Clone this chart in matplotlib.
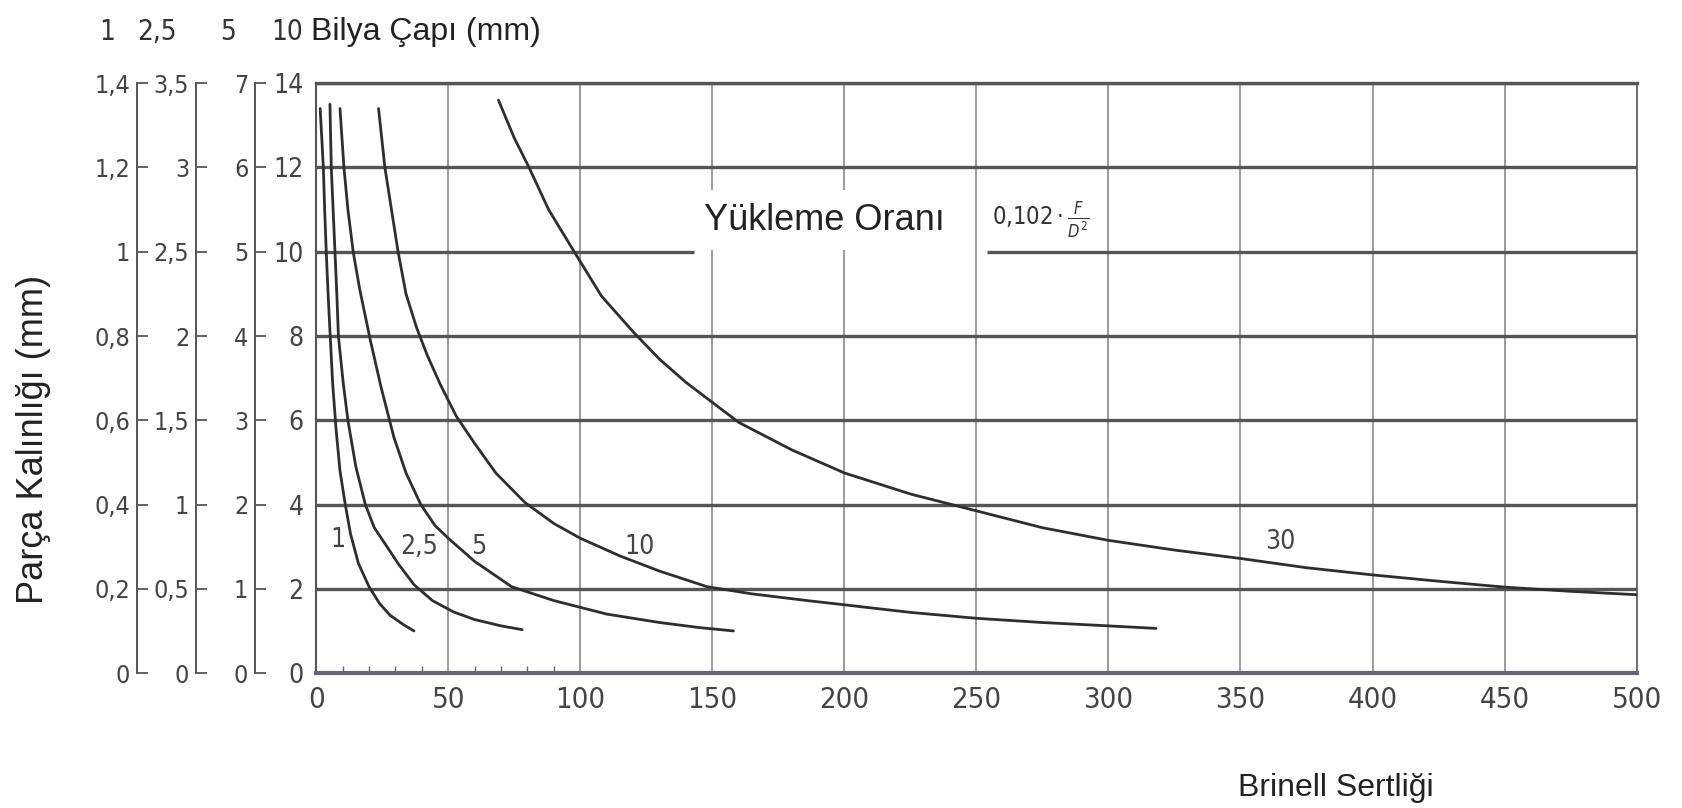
import matplotlib
matplotlib.use('Agg')
import matplotlib.pyplot as plt

plt.rcParams['font.family'] = ['DejaVu Sans']
plt.rcParams['font.stretch'] = 'condensed'

# Brinell hardness and part thickness (10 mm ball scale)
hb_1 = [1.5, 2.1, 2.7, 3.2, 3.8, 4.5, 5.3, 6.2, 7.5, 9, 11, 13, 16, 20, 24, 28, 33, 37]
t_1 = [13.4, 12.7, 12, 11, 10, 9, 8, 6.9, 5.8, 4.8, 4.0, 3.3, 2.6, 2.05, 1.65, 1.37, 1.15, 1.0]

hb_25 = [5.2, 5.7, 6.4, 7.1, 7.8, 8.4, 10.2, 12, 15, 18.6, 22, 26.8, 31, 37, 44, 52, 60, 70, 78]
t_25 = [13.5, 12, 11, 10, 9, 8, 6.9, 6, 4.9, 4.0, 3.45, 3.0, 2.6, 2.1, 1.72, 1.45, 1.27, 1.12, 1.03]

hb_5 = [9, 10.5, 12, 14, 16.5, 20.5, 24.5, 29.4, 34, 39.6, 45, 50, 60, 74, 90, 110, 130, 145, 158]
t_5 = [13.4, 12, 11, 10, 9.1, 7.9, 6.8, 5.6, 4.75, 4.0, 3.5, 3.2, 2.65, 2.05, 1.72, 1.4, 1.2, 1.08, 1.0]

hb_10 = [23.6, 26, 28.5, 31, 34, 38, 42, 47, 53, 60, 68, 79, 90, 100, 115, 130, 148,
         165, 186, 200, 225, 250, 275, 300, 318]
t_10 = [13.4, 12, 11, 10, 9, 8.2, 7.55, 6.85, 6.1, 5.45, 4.75, 4.05, 3.55, 3.2, 2.78, 2.42, 2.05,
        1.88, 1.72, 1.62, 1.44, 1.3, 1.2, 1.12, 1.06]

hb_30 = [69, 75, 80.6, 88, 97.7, 108, 120, 130, 140, 160, 180, 200, 225, 250, 275, 300,
         325, 350, 375, 400, 425, 450, 475, 500]
t_30 = [13.6, 12.7, 12, 11, 10, 8.95, 8.1, 7.45, 6.9, 5.95, 5.3, 4.75, 4.25, 3.85, 3.45, 3.15,
        2.92, 2.72, 2.5, 2.33, 2.18, 2.04, 1.94, 1.86]

curves = [(hb_1, t_1), (hb_25, t_25), (hb_5, t_5), (hb_10, t_10), (hb_30, t_30)]
curve_names = ['1', '2,5', '5', '10', '30']
name_pos = [(8.4, 3.15), (39, 3.0), (61.5, 3.0), (122.5, 3.0), (365, 3.1)]

# x axis and main (10 mm) thickness axis
hb_ticks = list(range(0, 501, 50))
t_ticks = list(range(0, 15, 2))

# extra thickness scales for the smaller balls
ball_sizes = [1, 2.5, 5]
ball_ticks = [
    [0, 0.2, 0.4, 0.6, 0.8, 1.0, 1.2, 1.4],
    [0, 0.5, 1.0, 1.5, 2.0, 2.5, 3.0, 3.5],
    [0, 1, 2, 3, 4, 5, 6, 7],
]
ball_labels = [
    ['0', '0,2', '0,4', '0,6', '0,8', '1', '1,2', '1,4'],
    ['0', '0,5', '1', '1,5', '2', '2,5', '3', '3,5'],
    ['0', '1', '2', '3', '4', '5', '6', '7'],
]
ball_axis_x = [-0.1356, -0.0909, -0.0462]
ball_head_x = [-0.158, -0.121, -0.067, -0.022]
ball_heads = ['1', '2,5', '5', '10']

sans = ['Liberation Sans', 'DejaVu Sans']

fig = plt.figure(figsize=(16.82, 8.08), dpi=100)
ax = fig.add_axes([0.188, 0.167, 0.785, 0.730])
ax.set_xlim(0, 500)
ax.set_ylim(0, 14)

# grid: thin verticals, heavy horizontals (10 line broken by the title)
for x in hb_ticks[1:-1]:
    ax.axvline(x, color='#808080', lw=1.1, zorder=1)
for y in t_ticks[1:]:
    if y == 10:
        ax.hlines(y, 0, 143, color='#555555', lw=2.4, zorder=1)
        ax.hlines(y, 254, 500, color='#555555', lw=2.4, zorder=1)
    else:
        ax.hlines(y, 0, 500, color='#555555', lw=2.4, zorder=1)

for (hb, t) in curves:
    ax.plot(hb, t, color='#2e2e2e', lw=2.0, solid_capstyle='round',
            solid_joinstyle='round', zorder=3)
for name, (x, y) in zip(curve_names, name_pos):
    ax.text(x, y, name, fontsize=19, color='#444444', ha='center', va='center', zorder=4)

ax.text(147, 10.75, 'Yükleme Oranı', fontsize=26, family=sans, fontstretch='normal',
        color='#222222', ha='left', va='center', zorder=5,
        bbox=dict(facecolor='white', edgecolor='none', pad=9))
ax.text(256, 10.75, r'$0{,}102\cdot\frac{F}{D^2}$', fontsize=17, color='#333333',
        ha='left', va='center', zorder=5,
        bbox=dict(facecolor='white', edgecolor='none', pad=3))

for s in ['left', 'top', 'right', 'bottom']:
    ax.spines[s].set_color('#555555')
ax.spines['left'].set_linewidth(1.5)
ax.spines['top'].set_linewidth(2.4)
ax.spines['right'].set_linewidth(1.2)
ax.spines['bottom'].set_linewidth(3.0)
ax.spines['bottom'].set_color('#6a6275')

ax.set_xticks(hb_ticks)
ax.set_xticklabels([str(v) for v in hb_ticks])
ax.set_xticks(list(range(10, 100, 10)), minor=True)
ax.tick_params(axis='x', which='major', length=0, pad=9, labelsize=21, labelcolor='#444444')
ax.tick_params(axis='x', which='minor', direction='in', length=5, width=1.0, color='#666666')
ax.set_yticks(t_ticks)
ax.set_yticklabels([str(v) for v in t_ticks])
ax.tick_params(axis='y', length=0, pad=9, labelsize=19, labelcolor='#444444')

for d, pos, ticks, labels in zip(ball_sizes, ball_axis_x, ball_ticks, ball_labels):
    k = d / 10.0
    sec = ax.secondary_yaxis(pos, functions=(lambda y, k=k: y * k, lambda y, k=k: y / k))
    sec.set_yticks(ticks)
    sec.set_yticklabels(labels)
    sec.spines['left'].set_color('#555555')
    sec.spines['left'].set_linewidth(1.4)
    sec.tick_params(axis='y', direction='in', length=8, width=1.3, color='#555555',
                    pad=5, labelsize=18, labelcolor='#444444')

for x, s in zip(ball_head_x, ball_heads):
    ax.text(x, 1.086, s, transform=ax.transAxes, fontsize=20, color='#333333',
            ha='center', va='center')
ax.text(-0.004, 1.086, 'Bilya Çapı (mm)', transform=ax.transAxes, fontsize=23,
        family=sans, fontstretch='normal', color='#222222', ha='left', va='center')

fig.text(0.02, 0.456, 'Parça Kalınlığı (mm)', rotation=90, fontsize=26,
         family=sans, fontstretch='normal', color='#222222', ha='center', va='center')
fig.text(0.794, 0.025, 'Brinell Sertliği', fontsize=23,
         family=sans, fontstretch='normal', color='#222222', ha='center', va='center')

fig.savefig('out.png', dpi=100, facecolor='white')
